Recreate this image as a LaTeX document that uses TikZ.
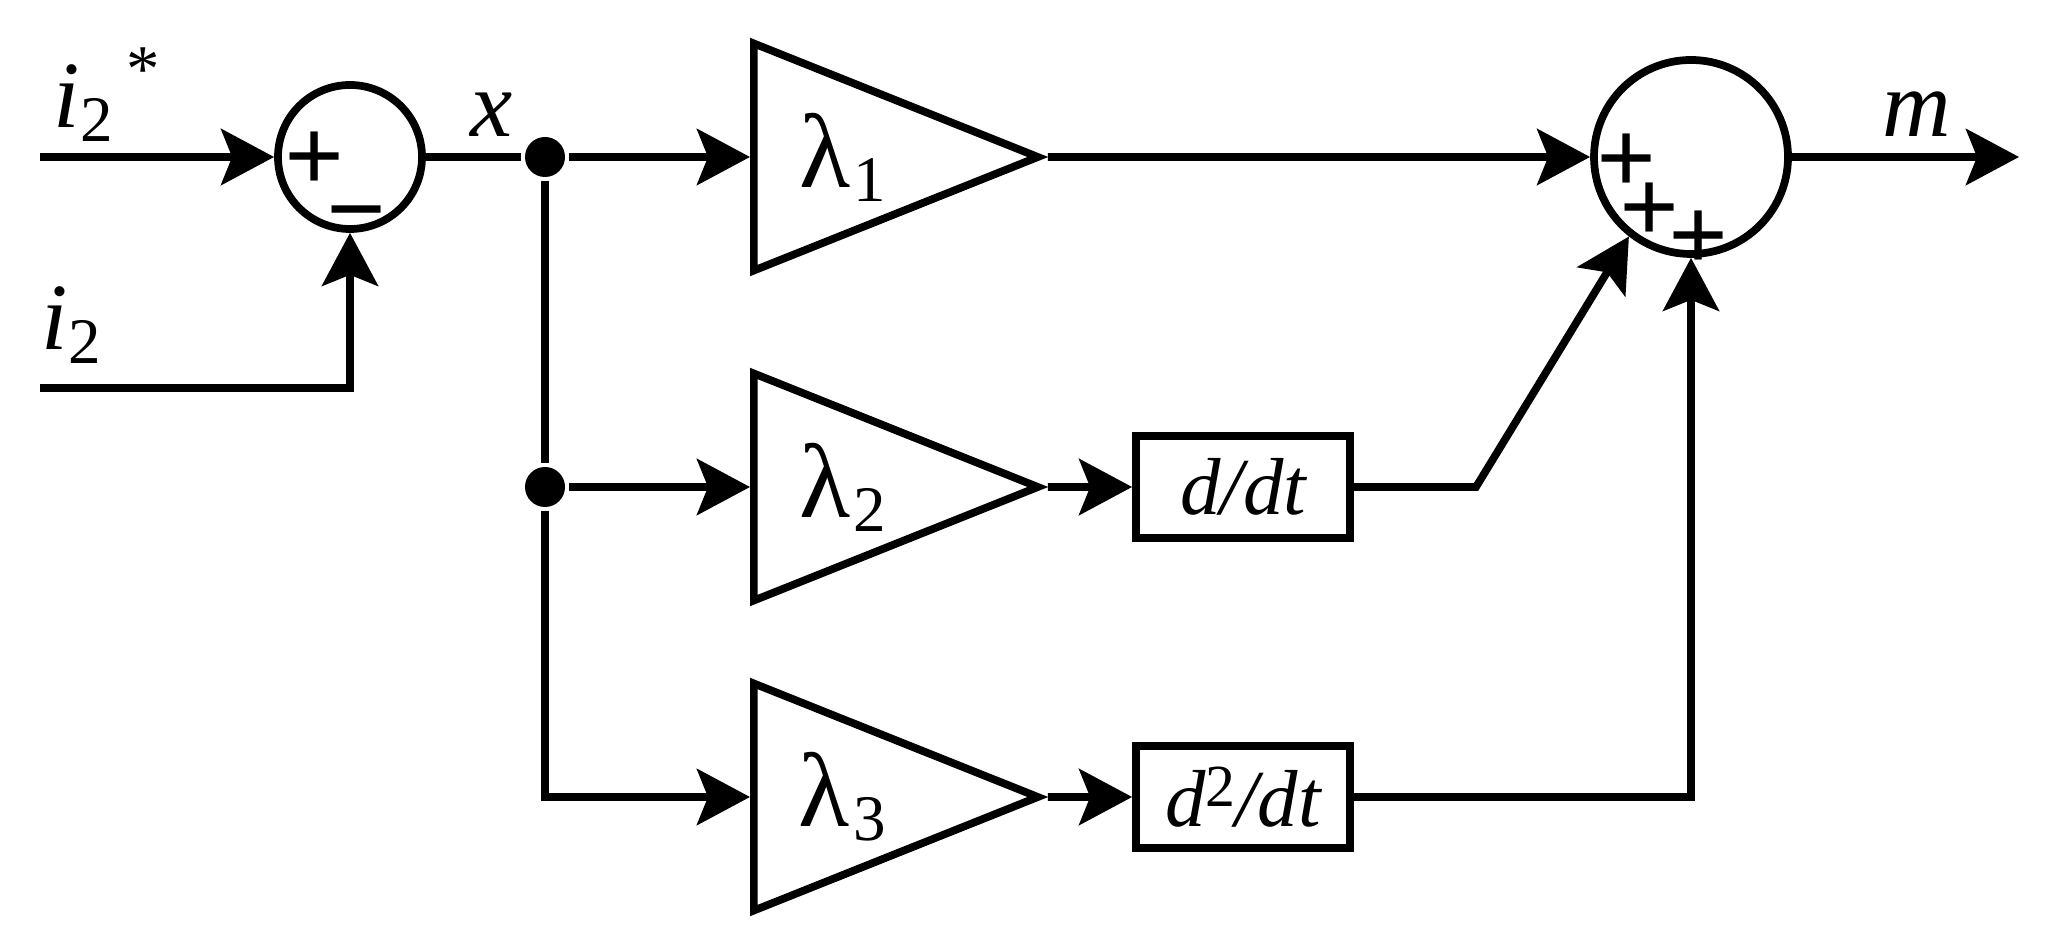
\documentclass[tikz,border=0pt]{standalone}
\usepackage{fontspec}
\setmainfont{Liberation Serif}
\usetikzlibrary{arrows.meta,shapes.geometric}
\newcommand{\lowidx}[1]{\raisebox{-0.14cm}{\fontsize{18.5}{18.5}\selectfont\upshape #1}}
\newcommand{\highidx}[1]{\raisebox{0.2cm}{\fontsize{17}{17}\selectfont\upshape #1}}

\begin{document}
\begin{tikzpicture}[>={Stealth[length=5.3mm,width=5.6mm,inset=1.1mm]},line width=2.2pt,
  sumnode/.style={draw,circle,inner sep=0pt},
  gain/.style={draw,isosceles triangle,isosceles triangle stretches,shape border rotate=0,minimum width=2.27cm,minimum height=2.84cm,inner sep=0pt,anchor=west,font=\fontsize{30}{30}\selectfont},
  opbox/.style={draw,minimum width=2.14cm,minimum height=1.02cm,inner sep=0pt,font=\fontsize{23}{23}\selectfont\itshape},
  junction/.style={circle,fill,inner sep=0pt,minimum size=4mm},
  sign/.style={inner sep=0pt,font=\fontsize{30}{30}\selectfont\bfseries},
  varlabel/.style={inner sep=0pt,font=\fontsize{27}{27}\selectfont\itshape}]
\useasboundingbox (0,0) rectangle (20.5,9.47);
\coordinate (in1) at (0.40,7.90);
\coordinate (in2) at (0.40,5.59);
\coordinate (kink) at (14.76,4.60);
\coordinate (out) at (20.19,7.90);
\node[sumnode,minimum size=1.44cm] (sum1) at (3.50,7.90) {};
\node[sign] (sum1p) at (3.15,7.85) {+};
\node[sign] (sum1n) at (3.57,7.22) {−};
\node[junction] (j1) at (5.45,7.90) {};
\node[junction] (j2) at (5.45,4.60) {};
\node[gain] (g1) at (7.50,7.90) {\hspace*{0.3cm}λ\hspace{1pt}\lowidx{1}};
\node[gain] (g2) at (7.50,4.60) {\hspace*{0.3cm}λ\hspace{1pt}\lowidx{2}};
\node[gain] (g3) at (7.50,1.50) {\hspace*{0.3cm}λ\hspace{1pt}\lowidx{3}};
\node[opbox] (b1) at (12.43,4.60) {d/dt};
\node[opbox] (b2) at (12.43,1.50) {d\highidx{2}/dt};
\node[sumnode,minimum size=1.94cm] (sum2) at (16.91,7.90) {};
\node[sign] (sum2a) at (16.27,7.83) {+};
\node[sign] (sum2b) at (16.50,7.34) {+};
\node[sign] (sum2c) at (16.99,7.06) {+};
\node[varlabel,anchor=base west] (istar) at (0.50,8.19) {i\lowidx{2}\hspace{4pt}\raisebox{0.36cm}{\fontsize{19}{19}\selectfont\upshape *}};
\node[varlabel,anchor=base west] (iact) at (0.38,5.97) {i\lowidx{2}};
\node[varlabel] (xlab) at (4.92,8.32) {x};
\node[varlabel] (mlab) at (19.17,8.33) {m};
\draw[->] (in1) -- (sum1.west);
\draw[->] (in2) -| (sum1.south);
\draw (sum1.east) -- (j1);
\draw[->] (j1) -- (g1.west);
\draw (j1) -- (j2);
\draw[->] (j2) -- (g2.west);
\draw[->] (j2) |- (g3.west);
\draw[->] (g1.apex) -- (sum2.west);
\draw[->] (g2.apex) -- (b1.west);
\draw[->] (g3.apex) -- (b2.west);
\draw[->] (b1.east) -- (kink) -- (sum2.232);
\draw[->] (b2.east) -| (sum2.south);
\draw[->] (sum2.east) -- (out);
\end{tikzpicture}
\end{document}
